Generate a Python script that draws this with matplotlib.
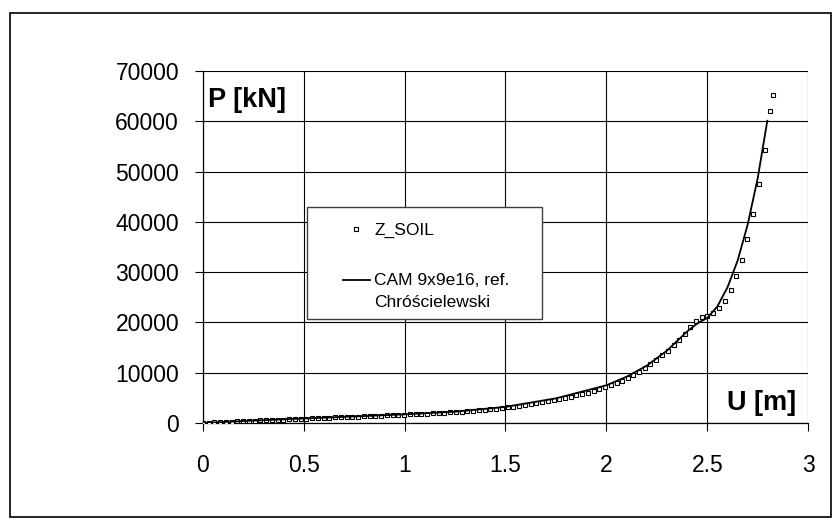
import numpy as np
import matplotlib.pyplot as plt
from matplotlib.patches import Rectangle
from matplotlib.legend_handler import HandlerLine2D

plt.rcParams['font.family'] = ['Liberation Sans', 'DejaVu Sans']

# Z_SOIL results (U [m], P [kN])
u_zsoil = [0.000, 0.029, 0.057, 0.086, 0.114, 0.143, 0.171, 0.200, 0.228, 0.257,
           0.285, 0.314, 0.342, 0.371, 0.399, 0.428, 0.456, 0.485, 0.513, 0.542,
           0.570, 0.599, 0.627, 0.656, 0.684, 0.713, 0.741, 0.770, 0.798, 0.827,
           0.855, 0.884, 0.912, 0.941, 0.969, 0.998, 1.026, 1.055, 1.083, 1.112,
           1.140, 1.169, 1.197, 1.226, 1.254, 1.283, 1.311, 1.340, 1.368, 1.397,
           1.425, 1.454, 1.482, 1.511, 1.539, 1.568, 1.596, 1.625, 1.653, 1.682,
           1.710, 1.739, 1.767, 1.795, 1.823, 1.851, 1.879, 1.907, 1.936, 1.965,
           1.993, 2.021, 2.050, 2.077, 2.105, 2.134, 2.161, 2.190, 2.218, 2.248,
           2.275, 2.305, 2.333, 2.361, 2.389, 2.414, 2.444, 2.472, 2.500, 2.530,
           2.558, 2.587, 2.615, 2.643, 2.671, 2.696, 2.726, 2.754, 2.784, 2.810,
           2.825]
p_zsoil = [0, 50, 100, 150, 200, 250, 300, 350, 400, 450,
           500, 550, 590, 640, 690, 740, 780, 830, 870, 920,
           960, 1010, 1050, 1100, 1140, 1190, 1230, 1280, 1320, 1370,
           1410, 1460, 1500, 1550, 1600, 1650, 1700, 1750, 1800, 1850,
           1910, 1970, 2030, 2100, 2170, 2250, 2330, 2420, 2510, 2610,
           2720, 2840, 2970, 3100, 3240, 3390, 3550, 3720, 3900, 4090,
           4290, 4500, 4720, 4950, 5230, 5490, 5760, 6020, 6360, 6760,
           7160, 7550, 7950, 8410, 9010, 9540, 10140, 10850, 11650, 12520,
           13440, 14310, 15430, 16560, 17750, 19090, 20280, 20990, 21190, 21870,
           22860, 24310, 26440, 29150, 32400, 36500, 41610, 47510, 54270, 62030,
           65270]

# reference solution (CAM 9x9e16, Chróścielewski)
u_ref = [0.0, 0.25, 0.5, 0.75, 1.0, 1.25, 1.5, 1.75, 2.0, 2.1, 2.2, 2.3, 2.4,
         2.45, 2.5, 2.55, 2.6, 2.65, 2.7, 2.75, 2.797]
p_ref = [0, 480, 900, 1300, 1720, 2250, 3200, 4900, 7500, 9200, 11400, 14400, 18200,
         19800, 20900, 23200, 27000, 32300, 39500, 48800, 60100]

x_ticks = [0, 0.5, 1, 1.5, 2, 2.5, 3]
y_ticks = [0, 10000, 20000, 30000, 40000, 50000, 60000, 70000]


class TopLineHandler(HandlerLine2D):
    # put the legend line next to the first line of a two-line label
    def create_artists(self, *args, **kwargs):
        arts = super().create_artists(*args, **kwargs)
        for a in arts:
            a.set_ydata(np.asarray(a.get_ydata()) + 8.0)
        return arts


fig = plt.figure(figsize=(8.39, 5.25), dpi=100)
ax = fig.add_axes([0.2416, 0.1943, 0.7218, 0.6705])

zs, = ax.plot(u_zsoil, p_zsoil, linestyle='none', marker='s', markersize=3.3,
              markerfacecolor='white', markeredgecolor='black', markeredgewidth=0.8,
              label='Z_SOIL', zorder=3)
ref, = ax.plot(u_ref, p_ref, color='black', linewidth=1.3,
               label='CAM 9x9e16, ref.\nChróścielewski', zorder=4)

ax.set_xlim(0, 3)
ax.set_ylim(0, 70000)
ax.set_xticks(x_ticks)
ax.set_xticklabels(['0', '0.5', '1', '1.5', '2', '2.5', '3'])
ax.set_yticks(y_ticks)
ax.tick_params(axis='both', direction='out', length=6, width=0.8, labelsize=16.5)
ax.tick_params(axis='x', pad=16)
ax.tick_params(axis='y', pad=11)
ax.grid(True, color='black', linewidth=0.8)
ax.set_axisbelow(True)
for side in ['top', 'right']:
    ax.spines[side].set_visible(False)
for side in ['left', 'bottom']:
    ax.spines[side].set_linewidth(0.9)

ax.text(208 / 839, 1 - 100 / 525, 'P [kN]', transform=fig.transFigure,
        fontsize=19.5, fontweight='bold', ha='left', va='center')
ax.text(727 / 839, 1 - 403 / 525, 'U [m]', transform=fig.transFigure,
        fontsize=19.5, fontweight='bold', ha='left', va='center')

# legend box drawn separately so its padding can match the original
ax.add_patch(Rectangle((307 / 839, 1 - 319 / 525), 235 / 839, 112 / 525,
                       transform=fig.transFigure, facecolor='white',
                       edgecolor='#404040', linewidth=1.0, zorder=5, clip_on=False))
leg = ax.legend(handles=[zs, ref], loc='upper left',
                bbox_to_anchor=(343 / 839, 1 - 223 / 525), bbox_transform=fig.transFigure,
                fontsize=12.5, frameon=False, borderpad=0, labelspacing=2.0,
                handlelength=1.55, handletextpad=0.25, borderaxespad=0,
                handler_map={ref: TopLineHandler()})
leg.set_zorder(6)
leg.get_texts()[1].set_linespacing(1.6)

# outer chart frame
fig.patches.append(Rectangle((10 / 839, 8 / 525), 821 / 839, 504 / 525,
                             transform=fig.transFigure, fill=False,
                             edgecolor='black', linewidth=1.2))

fig.savefig('out.png', dpi=100)
